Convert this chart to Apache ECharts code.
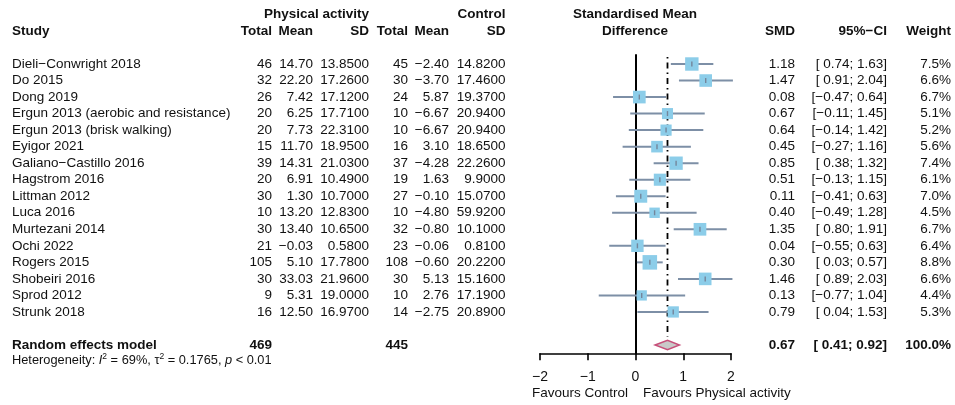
<!DOCTYPE html>
<html>
<head>
<meta charset="utf-8">
<script src="https://cdn.jsdelivr.net/npm/echarts@6/dist/echarts.min.js"></script>
<style>html,body{margin:0;padding:0;background:#fff;}#c{width:955px;height:405px;}</style>
</head>
<body>
<div id="c"></div>
<script>
const studies = ["Dieli\u2212Conwright 2018","Do 2015","Dong 2019","Ergun 2013 (aerobic and resistance)","Ergun 2013 (brisk walking)","Eyigor 2021","Galiano\u2212Castillo 2016","Hagstrom 2016","Littman 2012","Luca 2016","Murtezani 2014","Ochi 2022","Rogers 2015","Shobeiri 2016","Sprod 2012","Strunk 2018"];
const paTotal = [46,32,26,20,20,15,39,20,30,10,30,21,105,30,9,16];
const paMean = [14.70,22.20,7.42,6.25,7.73,11.70,14.31,6.91,1.30,13.20,13.40,-0.03,5.10,33.03,5.31,12.50];
const paSD = [13.85,17.26,17.12,17.71,22.31,18.95,21.03,10.49,10.70,12.83,10.65,0.58,17.78,21.96,19.00,16.97];
const ctTotal = [45,30,24,10,10,16,37,19,27,10,32,23,108,30,10,14];
const ctMean = [-2.40,-3.70,5.87,-6.67,-6.67,3.10,-4.28,1.63,-0.10,-4.80,-0.80,-0.06,-0.60,5.13,2.76,-2.75];
const ctSD = [14.82,17.46,19.37,20.94,20.94,18.65,22.26,9.90,15.07,59.92,10.10,0.81,20.22,15.16,17.19,20.89];
const smd = [1.18,1.47,0.08,0.67,0.64,0.45,0.85,0.51,0.11,0.40,1.35,0.04,0.30,1.46,0.13,0.79];
const ciLow = [0.74,0.91,-0.47,-0.11,-0.14,-0.27,0.38,-0.13,-0.41,-0.49,0.80,-0.55,0.03,0.89,-0.77,0.04];
const ciHigh = [1.63,2.04,0.64,1.45,1.42,1.16,1.32,1.15,0.63,1.28,1.91,0.63,0.57,2.03,1.04,1.53];
const weight = [7.5,6.6,6.7,5.1,5.2,5.6,7.4,6.1,7.0,4.5,6.7,6.4,8.8,6.6,4.4,5.3];
const pooled = {smd:0.67, low:0.41, high:0.92, paTotal:469, ctTotal:445, weight:"100.0%"};
const xTicks = [-2,-1,0,1,2];
const heterogeneity = {i2:"69%", tau2:"0.1765", p:"0.01"};

const FONT = '"Liberation Sans", Arial, Helvetica, sans-serif';
const FS = 13.5;
const ROW = 16.53, Y0 = 64;
const TXT = '#111';

function fmt(v, d){ return (v < 0 ? '\u2212' : '') + Math.abs(v).toFixed(d); }
function ci(l, h, d){ return '[' + (l < 0 ? '\u2212' : ' ') + Math.abs(l).toFixed(d) + '; ' + (h < 0 ? '\u2212' : '') + Math.abs(h).toFixed(d) + ']'; }

// column anchor x (layout)
const C = {study:12, paT:272, paM:313, paS:369, ctT:408, ctM:449, ctS:505.5, smd:795, ci:887, w:951, smdHead:635};

const items = [];
function add(x, r, t, a, b, rich){ items.push({x, r, t, a, b, rich}); }
// headers
add(C.paS, -3, 'Physical activity', 'right', true);
add(C.ctS, -3, 'Control', 'right', true);
add(C.smdHead, -3, 'Standardised Mean', 'center', true);
add(C.smdHead, -2, 'Difference', 'center', true);
add(C.study, -2, 'Study', 'left', true);
add(C.paT, -2, 'Total', 'right', true);
add(C.paM, -2, 'Mean', 'right', true);
add(C.paS, -2, 'SD', 'right', true);
add(C.ctT, -2, 'Total', 'right', true);
add(C.ctM, -2, 'Mean', 'right', true);
add(C.ctS, -2, 'SD', 'right', true);
add(C.smd, -2, 'SMD', 'right', true);
add(C.ci, -2, '95%\u2212CI', 'right', true);
add(C.w, -2, 'Weight', 'right', true);
studies.forEach((s, i) => {
  add(C.study, i, s, 'left');
  add(C.paT, i, String(paTotal[i]), 'right');
  add(C.paM, i, fmt(paMean[i], 2), 'right');
  add(C.paS, i, fmt(paSD[i], 4), 'right');
  add(C.ctT, i, String(ctTotal[i]), 'right');
  add(C.ctM, i, fmt(ctMean[i], 2), 'right');
  add(C.ctS, i, fmt(ctSD[i], 4), 'right');
  add(C.smd, i, fmt(smd[i], 2), 'right');
  add(C.ci, i, ci(ciLow[i], ciHigh[i], 2), 'right');
  add(C.w, i, weight[i].toFixed(1) + '%', 'right');
});
const SR = studies.length + 1;
add(C.study, SR, 'Random effects model', 'left', true);
add(C.paT, SR, String(pooled.paTotal), 'right', true);
add(C.ctT, SR, String(pooled.ctTotal), 'right', true);
add(C.smd, SR, fmt(pooled.smd, 2), 'right', true);
add(C.ci, SR, ci(pooled.low, pooled.high, 2), 'right', true);
add(C.w, SR, pooled.weight, 'right', true);
add(C.study, SR + 0.95,
  '{n|Heterogeneity: }{it|I}{sup|2}{n| = ' + heterogeneity.i2 + ', \u03c4}{sup|2}{n| = ' + heterogeneity.tau2 + ', }{it|p}{n| < ' + heterogeneity.p + '}',
  'left', false, {
    n:{fontSize:12.8, fontFamily:FONT, fill:TXT},
    it:{fontSize:12.8, fontFamily:FONT, fontStyle:'italic', fill:TXT},
    sup:{fontSize:8.5, fontFamily:FONT, fill:TXT, padding:[0,0,8,0]}
  });
add(628, 19.95, 'Favours Control', 'right');
add(643, 19.95, 'Favours Physical activity', 'left');

const chart = echarts.init(document.getElementById('c'), null, {renderer:'canvas'});
const fMinY = -0.55, fMaxY = 17.5;
const tMinY = -3.5, tMaxY = 20.5;
chart.setOption({
  animation: false,
  backgroundColor: '#fff',
  grid: [
    {left:540, width:191, top:Y0 + fMinY * ROW, height:(fMaxY - fMinY) * ROW},
    {left:0, width:955, top:Y0 + tMinY * ROW, height:(tMaxY - tMinY) * ROW}
  ],
  xAxis: [
    {gridIndex:0, type:'value', min:xTicks[0], max:xTicks[xTicks.length-1], interval:1,
     axisLine:{show:true, onZero:false, lineStyle:{color:'#000', width:1.6}},
     axisTick:{show:true, length:7, lineStyle:{color:'#000', width:1.6}},
     axisLabel:{margin:17, fontSize:14, color:TXT, fontFamily:FONT, formatter:v => fmt(v, 0)},
     splitLine:{show:false}},
    {gridIndex:1, type:'value', min:0, max:955, show:false}
  ],
  yAxis: [
    {gridIndex:0, type:'value', inverse:true, min:fMinY, max:fMaxY,
     axisLine:{show:true, onZero:true, lineStyle:{color:'#000', width:2}},
     axisTick:{show:false}, axisLabel:{show:false}, splitLine:{show:false}},
    {gridIndex:1, type:'value', inverse:true, min:tMinY, max:tMaxY, show:false}
  ],
  series: [
    {
      type:'custom', xAxisIndex:0, yAxisIndex:0, silent:true, clip:false, z:2,
      data:[[pooled.smd, SR, pooled.low, pooled.high]],
      renderItem(params, api){
        const m = api.value(0), r = api.value(1);
        const top = api.coord([m, -0.42]);
        const bot = api.coord([m, r - 0.52]);
        const c = api.coord([m, r]);
        const l = api.coord([api.value(2), r]);
        const h = api.coord([api.value(3), r]);
        const hh = 4.8;
        return {type:'group', children:[
          {type:'line', shape:{x1:top[0], y1:top[1], x2:bot[0], y2:bot[1]},
           style:{stroke:'#000', lineWidth:1.8, lineDash:[1.5,4,6,4]}},
          {type:'polygon', shape:{points:[[l[0], c[1]], [c[0], c[1]-hh], [h[0], c[1]], [c[0], c[1]+hh]]},
           style:{fill:'#c9c9c9', stroke:'#c7507a', lineWidth:1.5}}
        ]};
      }
    },
    {
      type:'custom', xAxisIndex:0, yAxisIndex:0, silent:true, clip:false, z:3,
      data: studies.map((s, i) => [smd[i], i, ciLow[i], ciHigh[i], weight[i]]),
      renderItem(params, api){
        const r = api.value(1);
        const c = api.coord([api.value(0), r]);
        const l = api.coord([api.value(2), r]);
        const h = api.coord([api.value(3), r]);
        const sz = 4.9 * Math.sqrt(api.value(4));
        return {type:'group', children:[
          {type:'line', shape:{x1:l[0], y1:c[1], x2:h[0], y2:c[1]}, style:{stroke:'#7d8fa6', lineWidth:2}},
          {type:'rect', shape:{x:c[0]-sz/2, y:c[1]-sz/2, width:sz, height:sz}, style:{fill:'#8ccde9'}},
          {type:'line', shape:{x1:c[0], y1:c[1]-2.5, x2:c[0], y2:c[1]+2.5}, style:{stroke:'#74869b', lineWidth:1.4}}
        ]};
      }
    },
    {
      type:'custom', xAxisIndex:1, yAxisIndex:1, silent:true, clip:false, z:4,
      data: items.map(d => [d.x, d.r]),
      renderItem(params, api){
        const d = items[params.dataIndex];
        const p = api.coord([api.value(0), api.value(1)]);
        const st = {text:d.t, x:0, y:0, align:d.a, verticalAlign:'middle', fill:TXT,
                    font:(d.b ? 'bold ' : '') + FS + 'px ' + FONT};
        if (d.rich) st.rich = d.rich;
        return {type:'text', x:p[0], y:p[1], style:st};
      }
    }
  ]
});
</script>
</body>
</html>
